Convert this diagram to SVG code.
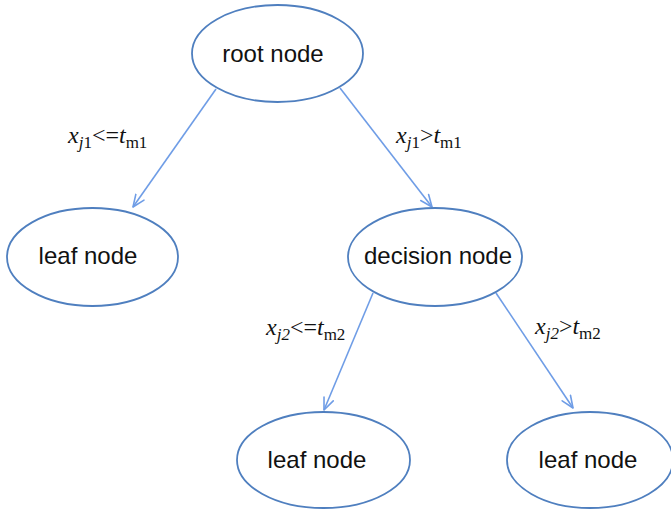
<svg xmlns="http://www.w3.org/2000/svg" width="671" height="511" viewBox="0 0 671 511">
<defs>
<marker id="arr" viewBox="0 0 14 12" refX="13" refY="6" markerWidth="14" markerHeight="12" markerUnits="userSpaceOnUse" orient="auto">
<path d="M1,1 L13,6 L1,11" fill="none" stroke="#6f9de6" stroke-width="1.6" stroke-linecap="round" stroke-linejoin="round"/>
</marker>
</defs>
<style>
.node ellipse{fill:#ffffff;stroke:#4f7fbf;stroke-width:1.8}
.node text{font-family:"Liberation Sans",Arial,sans-serif;font-size:24px;fill:#111111;text-anchor:middle}
.edge{stroke:#6f9de6;stroke-width:1.6;fill:none;marker-end:url(#arr)}
.lbl{font-family:"Liberation Serif","Times New Roman",serif;font-size:24px;fill:#111111}
.it{font-style:italic}
.sub{font-size:17px}
</style>
<rect width="671" height="511" fill="#ffffff"/>
<g id="connectors">
<line class="edge" x1="216" y1="89" x2="133" y2="207"/>
<line class="edge" x1="340" y1="88" x2="432" y2="207"/>
<line class="edge" x1="373" y1="293" x2="324" y2="410"/>
<line class="edge" x1="496" y1="293" x2="573" y2="408"/>
<text class="lbl" x="68" y="143"><tspan class="it">x</tspan><tspan class="sub it" dy="5">j</tspan><tspan class="sub">1</tspan><tspan dy="-5">&lt;=</tspan><tspan class="it">t</tspan><tspan class="sub" dy="5">m1</tspan></text>
<text class="lbl" x="396" y="143"><tspan class="it">x</tspan><tspan class="sub it" dy="5">j</tspan><tspan class="sub">1</tspan><tspan dy="-5">&gt;</tspan><tspan class="it">t</tspan><tspan class="sub" dy="5">m1</tspan></text>
<text class="lbl" x="266" y="335"><tspan class="it">x</tspan><tspan class="sub it" dy="5">j2</tspan><tspan dy="-5">&lt;=</tspan><tspan class="it">t</tspan><tspan class="sub" dy="5">m2</tspan></text>
<text class="lbl" x="535" y="334"><tspan class="it">x</tspan><tspan class="sub it" dy="5">j2</tspan><tspan dy="-5">&gt;</tspan><tspan class="it">t</tspan><tspan class="sub" dy="5">m2</tspan></text>
</g>
<g id="root" class="node">
<ellipse cx="277.5" cy="53.5" rx="85.5" ry="48.5"/>
<text x="273" y="62">root node</text>
</g>
<g id="leaf1" class="node">
<ellipse cx="92.5" cy="257" rx="85.5" ry="49"/>
<text x="88" y="264">leaf node</text>
</g>
<g id="decision" class="node">
<ellipse cx="435" cy="257" rx="87" ry="49"/>
<text x="438" y="264">decision node</text>
</g>
<g id="leaf2" class="node">
<ellipse cx="323.5" cy="460" rx="86.5" ry="48"/>
<text x="317" y="468">leaf node</text>
</g>
<g id="leaf3" class="node">
<ellipse cx="590" cy="460" rx="83" ry="48"/>
<text x="588" y="468">leaf node</text>
</g>
</svg>
